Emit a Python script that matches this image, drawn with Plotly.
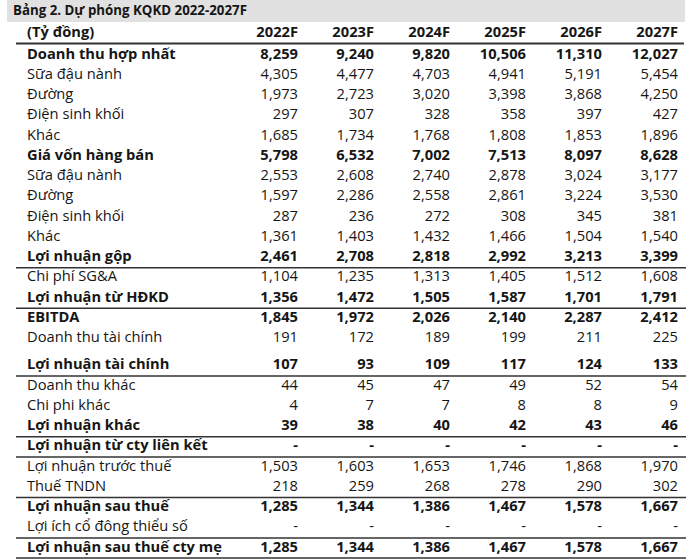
import plotly.graph_objects as go

title = "Bảng 2. Dự phóng KQKD 2022-2027F"
unit = "(Tỷ đồng)"
years = ["2022F", "2023F", "2024F", "2025F", "2026F", "2027F"]

labels = [
    "Doanh thu hợp nhất", "Sữa đậu nành", "Đường", "Điện sinh khối", "Khác",
    "Giá vốn hàng bán", "Sữa đậu nành", "Đường", "Điện sinh khối", "Khác",
    "Lợi nhuận gộp", "Chi phí SG&A", "Lợi nhuận từ HĐKD", "EBITDA",
    "Doanh thu tài chính", "Lợi nhuận tài chính", "Doanh thu khác",
    "Chi phi khác", "Lợi nhuận khác", "Lợi nhuận từ cty liên kết",
    "Lợi nhuận trước thuế", "Thuế TNDN", "Lợi nhuận sau thuế",
    "Lợi ích cổ đông thiểu số", "Lợi nhuận sau thuế cty mẹ",
]
bold_rows = [0, 5, 10, 12, 13, 15, 18, 19, 22, 24]
line_after = [10, 12, 15, 18, 19, 21, 23, 24]

y2022 = [8259, 4305, 1973, 297, 1685, 5798, 2553, 1597, 287, 1361, 2461, 1104, 1356, 1845, 191, 107, 44, 4, 39, None, 1503, 218, 1285, None, 1285]
y2023 = [9240, 4477, 2723, 307, 1734, 6532, 2608, 2286, 236, 1403, 2708, 1235, 1472, 1972, 172, 93, 45, 7, 38, None, 1603, 259, 1344, None, 1344]
y2024 = [9820, 4703, 3020, 328, 1768, 7002, 2740, 2558, 272, 1432, 2818, 1313, 1505, 2026, 189, 109, 47, 7, 40, None, 1653, 268, 1386, None, 1386]
y2025 = [10506, 4941, 3398, 358, 1808, 7513, 2878, 2861, 308, 1466, 2992, 1405, 1587, 2140, 199, 117, 49, 8, 42, None, 1746, 278, 1467, None, 1467]
y2026 = [11310, 5191, 3868, 397, 1853, 8097, 3024, 3224, 345, 1504, 3213, 1512, 1701, 2287, 211, 124, 52, 8, 43, None, 1868, 290, 1578, None, 1578]
y2027 = [12027, 5454, 4250, 427, 1896, 8628, 3177, 3530, 381, 1540, 3399, 1608, 1791, 2412, 225, 133, 54, 9, 46, None, 1970, 302, 1667, None, 1667]
values = [y2022, y2023, y2024, y2025, y2026, y2027]

# layout in page pixel units
col_right = [298, 374, 450, 526, 602, 678]
label_x = 27
row0, step, gap_after = 55, 20.25, 14
header_y = 33


def row_y(i):
    return row0 + step * i + (7 if i > gap_after else 0)


def fmt(v, b):
    s = "-" if v is None else f"{v:,}"
    return f"<b>{s}</b>" if b else s


ys = [row_y(i) for i in range(len(labels))]
font = dict(family="Open Sans", size=14.7, color="#161616")

fig = go.Figure()
fig.add_trace(go.Scatter(
    x=[label_x] * len(labels), y=ys, mode="text",
    text=[f"<b>{l}</b>" if i in bold_rows else l for i, l in enumerate(labels)],
    textposition="middle right", textfont=font, hoverinfo="skip"))
for c, vals in enumerate(values):
    fig.add_trace(go.Scatter(
        x=[col_right[c]] * len(vals), y=ys, mode="text",
        text=[fmt(v, i in bold_rows) for i, v in enumerate(vals)],
        textposition="middle left", textfont=font, hoverinfo="skip"))

# header row
fig.add_trace(go.Scatter(
    x=[label_x] + col_right, y=[header_y] * 7, mode="text",
    text=[f"<b>{unit}</b>"] + [f"<b>{y}</b>" for y in years],
    textposition=["middle right"] + ["middle left"] * 6,
    textfont=font, hoverinfo="skip"))

# title
fig.add_trace(go.Scatter(
    x=[13], y=[11.5], mode="text", text=[f"<b>{title}</b>"],
    textposition="middle right", cliponaxis=False,
    textfont=dict(family="Open Sans", size=13.3, color="#161616"),
    hoverinfo="skip"))

shapes = [dict(type="rect", x0=7, x1=685, y0=0, y1=22, fillcolor="#e1e1e1",
               line_width=0, layer="below"),
          dict(type="line", x0=16, x1=684, y0=43.5, y1=43.5,
               line=dict(color="#333333", width=2))]
for i in line_after:
    yl = (row_y(i) + row_y(i + 1)) / 2 if i + 1 < len(labels) else row_y(i) + 10
    shapes.append(dict(type="line", x0=16, x1=686, y0=yl, y1=yl,
                       line=dict(color="#333333", width=1.5)))

fig.update_layout(
    width=700, height=560, margin=dict(l=0, r=0, t=0, b=0),
    paper_bgcolor="white", plot_bgcolor="white", showlegend=False,
    shapes=shapes,
    xaxis=dict(range=[0, 700], visible=False, fixedrange=True),
    yaxis=dict(range=[560, 0], visible=False, fixedrange=True),
)
fig.write_html("out.html", config={"displayModeBar": False},
               post_script="document.body.style.margin='0';")
